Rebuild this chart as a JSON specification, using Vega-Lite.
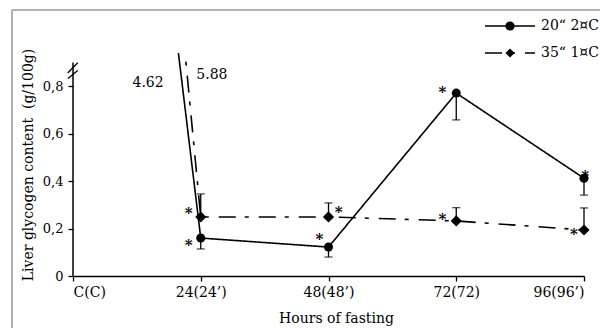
{
  "$schema": "https://vega.github.io/schema/vega-lite/v6.json",
  "width": 511,
  "height": 223,
  "autosize": {"type": "none"},
  "padding": {"left": 73, "top": 53, "right": 16, "bottom": 52},
  "background": "white",
  "config": {
    "view": {"stroke": null},
    "font": "DejaVu Serif",
    "axis": {
      "grid": false,
      "domainColor": "black",
      "domainWidth": 1.5,
      "tickColor": "black",
      "tickWidth": 1.3,
      "tickSize": 5,
      "labelColor": "black",
      "labelFont": "DejaVu Serif",
      "titleColor": "black",
      "titleFont": "DejaVu Serif",
      "titleFontWeight": "normal",
      "titleFontSize": 14
    },
    "legend": {
      "title": null,
      "orient": "none",
      "legendX": 430,
      "legendY": -34,
      "padding": 0,
      "labelOffset": 24,
      "labelFont": "DejaVu Serif",
      "labelFontSize": 14,
      "labelColor": "black",
      "rowPadding": 13,
      "symbolSize": 100
    }
  },
  "datasets": {
    "obs": [
      {"hour": 0, "series": "20“ 2¤C", "mean": 4.62},
      {"hour": 24, "series": "20“ 2¤C", "mean": 0.16, "bound": 0.114},
      {"hour": 48, "series": "20“ 2¤C", "mean": 0.122, "bound": 0.08},
      {"hour": 72, "series": "20“ 2¤C", "mean": 0.771, "bound": 0.658},
      {"hour": 96, "series": "20“ 2¤C", "mean": 0.412, "bound": 0.341},
      {"hour": 0, "series": "35“ 1¤C", "mean": 5.88},
      {"hour": 24, "series": "35“ 1¤C", "mean": 0.249, "bound": 0.346},
      {"hour": 48, "series": "35“ 1¤C", "mean": 0.249, "bound": 0.308},
      {"hour": 72, "series": "35“ 1¤C", "mean": 0.232, "bound": 0.288},
      {"hour": 96, "series": "35“ 1¤C", "mean": 0.194, "bound": 0.287}
    ],
    "offscale": [
      {"label": "4.62", "hour": 14.1, "value": 0.818},
      {"label": "5.88", "hour": 26.1, "value": 0.852}
    ],
    "stars": [
      {"hour": 21.75, "value": 0.148},
      {"hour": 21.75, "value": 0.282},
      {"hour": 46.3, "value": 0.173},
      {"hour": 49.9, "value": 0.287},
      {"hour": 69.4, "value": 0.793},
      {"hour": 69.4, "value": 0.257},
      {"hour": 96.2, "value": 0.438},
      {"hour": 94.1, "value": 0.194}
    ]
  },
  "layer": [
    {
      "data": {"name": "obs"},
      "mark": {"type": "line", "clip": true, "strokeWidth": 1.6, "color": "black"},
      "encoding": {
        "x": {
          "field": "hour", "type": "quantitative",
          "scale": {"domain": [0, 96], "nice": false, "zero": false},
          "axis": {
            "values": [0, 24, 48, 72, 96],
            "labelExpr": "datum.value == 0 ? 'C(C)' : datum.value == 72 ? '72(72)' : datum.value + '(' + datum.value + '’)'",
            "labelFontSize": 14,
            "labelPadding": 4,
            "title": "Hours of fasting",
            "titlePadding": 12,
            "titleX": 263
          }
        },
        "y": {
          "field": "mean", "type": "quantitative",
          "scale": {"domain": [0, 0.94], "nice": false},
          "axis": {
            "values": [0, 0.2, 0.4, 0.6, 0.8],
            "labelExpr": "datum.value == 0 ? '0' : replace(format(datum.value, '.1f'), '.', ',')",
            "labelFontSize": 13,
            "labelPadding": 5,
            "domain": false,
            "title": "Liver glycogen content\u00a0 (g/100g)",
            "titlePadding": 7
          }
        },
        "strokeDash": {
          "field": "series", "type": "nominal",
          "scale": {"domain": ["20“ 2¤C", "35“ 1¤C"], "range": [[1, 0], [17, 9, 4, 10]]},
          "legend": {
            "symbolType": "M-5,0H5",
            "symbolStrokeWidth": 1.6,
            "symbolStrokeColor": "black",
            "symbolFillColor": "transparent",
            "labelOpacity": 0
          }
        },
        "detail": {"field": "series"}
      }
    },
    {
      "description": "figure frame (top and left edges)",
      "data": {"values": [{}]},
      "mark": {"type": "rule", "color": "#9a9a9a", "strokeWidth": 1.5, "clip": false},
      "encoding": {
        "x": {"datum": -11.46, "type": "quantitative"},
        "x2": {"datum": 102},
        "y": {"datum": 1.121, "type": "quantitative"}
      }
    },
    {
      "data": {"values": [{}]},
      "mark": {"type": "rule", "color": "#9a9a9a", "strokeWidth": 1.5, "clip": false},
      "encoding": {
        "x": {"datum": -11.46, "type": "quantitative"},
        "y": {"datum": 1.121, "type": "quantitative"},
        "y2": {"datum": -0.3}
      }
    },
    {
      "description": "y axis line, stopping at the break",
      "data": {"values": [{}]},
      "mark": {"type": "rule", "color": "black", "strokeWidth": 1.5},
      "encoding": {
        "x": {"datum": 0, "type": "quantitative"},
        "y": {"datum": 0, "type": "quantitative"},
        "y2": {"datum": 0.9}
      }
    },
    {
      "description": "axis break slashes",
      "data": {"values": [{}]},
      "mark": {"type": "rule", "color": "black", "strokeWidth": 1.3, "clip": false},
      "encoding": {
        "x": {"datum": -1.0, "type": "quantitative"},
        "x2": {"datum": 0.9},
        "y": {"datum": 0.856, "type": "quantitative"},
        "y2": {"datum": 0.899}
      }
    },
    {
      "data": {"values": [{}]},
      "mark": {"type": "rule", "color": "black", "strokeWidth": 1.3, "clip": false},
      "encoding": {
        "x": {"datum": -0.95, "type": "quantitative"},
        "x2": {"datum": 0.9},
        "y": {"datum": 0.833, "type": "quantitative"},
        "y2": {"datum": 0.866}
      }
    },
    {
      "data": {"name": "obs"},
      "transform": [{"filter": "datum.hour > 0"}],
      "mark": {"type": "rule", "color": "black", "strokeWidth": 1.3},
      "encoding": {
        "x": {"field": "hour", "type": "quantitative"},
        "y": {"field": "mean", "type": "quantitative"},
        "y2": {"field": "bound"}
      }
    },
    {
      "data": {"name": "obs"},
      "transform": [{"filter": "datum.hour > 0"}],
      "mark": {"type": "tick", "orient": "horizontal", "color": "black", "size": 8, "thickness": 1.3},
      "encoding": {
        "x": {"field": "hour", "type": "quantitative"},
        "y": {"field": "bound", "type": "quantitative"}
      }
    },
    {
      "description": "circle markers for the 20 series",
      "data": {"name": "obs"},
      "transform": [
        {"filter": "datum.hour > 0 && indexof(datum.series, '20') === 0"},
        {"calculate": "datum.series", "as": "marker"}
      ],
      "mark": {"type": "point", "filled": true, "color": "black", "opacity": 1, "size": 82},
      "encoding": {
        "x": {"field": "hour", "type": "quantitative"},
        "y": {"field": "mean", "type": "quantitative"},
        "shape": {
          "field": "marker", "type": "nominal",
          "scale": {"range": ["circle", "diamond"]},
          "legend": {
            "symbolSize": 85,
            "symbolFillColor": "black",
            "symbolStrokeColor": "black",
            "symbolStrokeWidth": 0,
            "symbolOpacity": 1
          }
        }
      }
    },
    {
      "description": "diamond markers for the 35 series",
      "data": {"name": "obs"},
      "transform": [
        {"filter": "datum.hour > 0 && indexof(datum.series, '35') === 0"},
        {"calculate": "datum.series", "as": "marker"}
      ],
      "mark": {"type": "point", "filled": true, "color": "black", "opacity": 1, "size": 125},
      "encoding": {
        "x": {"field": "hour", "type": "quantitative"},
        "y": {"field": "mean", "type": "quantitative"},
        "shape": {"field": "marker", "type": "nominal"}
      }
    },
    {
      "data": {"name": "offscale"},
      "mark": {"type": "text", "fontSize": 14, "color": "black", "baseline": "middle", "align": "center", "dy": 1},
      "encoding": {
        "x": {"field": "hour", "type": "quantitative"},
        "y": {"field": "value", "type": "quantitative"},
        "text": {"field": "label"}
      }
    },
    {
      "data": {"name": "stars"},
      "mark": {"type": "text", "fontSize": 15, "fontWeight": "bold", "color": "black", "baseline": "middle", "align": "center", "dy": 4, "text": "*"},
      "encoding": {
        "x": {"field": "hour", "type": "quantitative"},
        "y": {"field": "value", "type": "quantitative"}
      }
    }
  ]
}
